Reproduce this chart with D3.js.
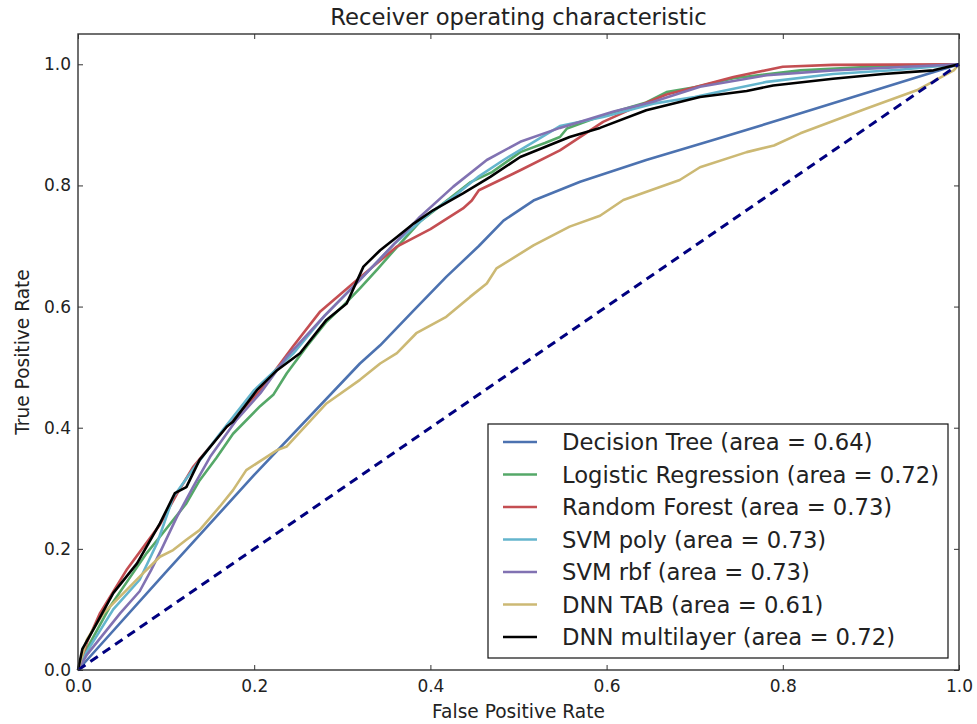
<!DOCTYPE html>
<meta charset="utf-8">
<style>
  body { margin: 0; background: white; }
  text { font-family: "DejaVu Sans", sans-serif; fill: #222; }
  .curve { fill: none; stroke-width: 2.6px; stroke-linejoin: round; }
  .tick line { stroke: #333; }
</style>
<body>
<div id="chart"></div>
<script src="https://d3js.org/d3.v7.min.js"></script>
<script>

// ROC curves, [fpr, tpr]
var decisionTree = [[0,0],[0.1,0.162],[0.2,0.322],[0.32,0.506],[0.343,0.536],[0.38,0.592],[0.418,0.649],[0.455,0.70],[0.483,0.742],[0.517,0.775],[0.57,0.806],[0.645,0.842],[0.721,0.875],[0.8,0.91],[0.9,0.955],[1,1]];
var logistic = [[0,0],[0.01,0.035],[0.036,0.104],[0.06,0.155],[0.078,0.193],[0.093,0.22],[0.123,0.275],[0.138,0.313],[0.157,0.35],[0.176,0.39],[0.207,0.436],[0.222,0.455],[0.237,0.49],[0.26,0.535],[0.282,0.575],[0.30,0.6],[0.32,0.63],[0.34,0.662],[0.36,0.695],[0.388,0.74],[0.41,0.765],[0.445,0.805],[0.47,0.822],[0.502,0.855],[0.53,0.87],[0.547,0.88],[0.555,0.894],[0.585,0.91],[0.615,0.924],[0.645,0.937],[0.668,0.954],[0.70,0.962],[0.744,0.977],[0.82,0.99],[0.9,0.996],[1,1]];
var randomForest = [[0,0],[0.01,0.045],[0.025,0.094],[0.055,0.165],[0.093,0.24],[0.112,0.29],[0.131,0.336],[0.169,0.402],[0.207,0.462],[0.244,0.534],[0.275,0.592],[0.32,0.648],[0.362,0.699],[0.40,0.728],[0.437,0.762],[0.447,0.775],[0.455,0.792],[0.502,0.825],[0.547,0.858],[0.596,0.905],[0.634,0.93],[0.668,0.95],[0.70,0.962],[0.744,0.979],[0.80,0.996],[0.857,0.999],[1,1]];
var svmPoly = [[0,0],[0.01,0.03],[0.04,0.1],[0.07,0.149],[0.09,0.21],[0.108,0.285],[0.13,0.33],[0.161,0.39],[0.2,0.462],[0.244,0.522],[0.28,0.585],[0.32,0.644],[0.36,0.705],[0.40,0.755],[0.426,0.781],[0.455,0.815],[0.483,0.842],[0.515,0.87],[0.547,0.898],[0.596,0.913],[0.653,0.935],[0.70,0.946],[0.729,0.955],[0.782,0.971],[0.857,0.984],[0.933,0.991],[1,1]];
var svmRbf = [[0,0],[0.01,0.025],[0.048,0.094],[0.07,0.13],[0.083,0.165],[0.095,0.2],[0.112,0.252],[0.131,0.303],[0.15,0.352],[0.18,0.413],[0.207,0.457],[0.237,0.517],[0.28,0.585],[0.32,0.644],[0.36,0.705],[0.388,0.748],[0.426,0.798],[0.464,0.842],[0.502,0.872],[0.547,0.895],[0.608,0.922],[0.653,0.938],[0.706,0.963],[0.782,0.982],[0.857,0.99],[1,1]];
var dnnTab = [[0,0],[0.01,0.05],[0.029,0.094],[0.055,0.132],[0.074,0.16],[0.093,0.187],[0.108,0.198],[0.123,0.215],[0.138,0.231],[0.161,0.27],[0.176,0.297],[0.191,0.33],[0.226,0.363],[0.237,0.369],[0.282,0.44],[0.32,0.479],[0.343,0.506],[0.362,0.523],[0.384,0.556],[0.418,0.583],[0.445,0.616],[0.464,0.638],[0.475,0.663],[0.517,0.701],[0.558,0.732],[0.5925,0.75],[0.619,0.776],[0.683,0.809],[0.706,0.83],[0.759,0.855],[0.79,0.866],[0.82,0.886],[0.895,0.927],[0.952,0.957],[0.994,0.99],[1,1]];
var dnnMulti = [[0,0],[0.005,0.035],[0.017,0.066],[0.04,0.127],[0.067,0.176],[0.093,0.242],[0.11,0.292],[0.123,0.302],[0.138,0.347],[0.169,0.402],[0.176,0.41],[0.203,0.462],[0.226,0.495],[0.252,0.523],[0.282,0.578],[0.305,0.605],[0.324,0.666],[0.343,0.693],[0.362,0.715],[0.381,0.737],[0.403,0.759],[0.437,0.787],[0.468,0.814],[0.502,0.847],[0.558,0.88],[0.5925,0.895],[0.645,0.924],[0.706,0.946],[0.759,0.956],[0.789,0.965],[0.857,0.976],[0.914,0.984],[0.971,0.99],[1,1]];

var names = ["Decision Tree", "Logistic Regression", "Random Forest", "SVM poly", "SVM rbf", "DNN TAB", "DNN multilayer"];
var areas = [0.64, 0.72, 0.73, 0.73, 0.73, 0.61, 0.72];
var curves = [decisionTree, logistic, randomForest, svmPoly, svmRbf, dnnTab, dnnMulti];
var colors = ["#4C72B0", "#55A868", "#C44E52", "#64B5CD", "#8172B2", "#CCB974", "#000000"];
var ticks = [0, 0.2, 0.4, 0.6, 0.8, 1.0];

var w = 977, h = 724;
var pLeft = 78, pRight = 959, pTop = 34, pBottom = 670;

var svg = d3.select("#chart").append("svg")
  .attr("width", w).attr("height", h);

var x = d3.scaleLinear().domain([0, 1]).range([pLeft, pRight]);
var y = d3.scaleLinear().domain([0, 1.05]).range([pBottom, pTop]);
var fmt = d3.format(".1f");

// axes, ticks pointing inward like matplotlib classic
svg.append("g").attr("transform", "translate(0," + pBottom + ")")
  .call(d3.axisBottom(x).tickValues(ticks).tickFormat(fmt).tickSizeInner(-5).tickSizeOuter(0).tickPadding(10))
  .call(function (g) { g.select(".domain").remove(); g.selectAll("text").style("font-size", "17px"); });
svg.append("g").attr("transform", "translate(0," + pTop + ")")
  .call(d3.axisTop(x).tickValues(ticks).tickFormat("").tickSizeInner(-5).tickSizeOuter(0))
  .call(function (g) { g.select(".domain").remove(); });
svg.append("g").attr("transform", "translate(" + pLeft + ",0)")
  .call(d3.axisLeft(y).tickValues(ticks).tickFormat(fmt).tickSizeInner(-5).tickSizeOuter(0).tickPadding(7))
  .call(function (g) { g.select(".domain").remove(); g.selectAll("text").style("font-size", "17px"); });
svg.append("g").attr("transform", "translate(" + pRight + ",0)")
  .call(d3.axisRight(y).tickValues(ticks).tickFormat("").tickSizeInner(-5).tickSizeOuter(0))
  .call(function (g) { g.select(".domain").remove(); });

var line = d3.line()
  .x(function (d) { return x(d[0]); })
  .y(function (d) { return y(d[1]); });

svg.append("g").selectAll("path")
  .data(curves)
  .enter().append("path")
  .attr("class", "curve")
  .attr("d", line)
  .attr("stroke", function (d, i) { return colors[i]; });

// chance line
svg.append("path")
  .attr("d", line([[0, 0], [1, 1]]))
  .attr("fill", "none")
  .attr("stroke", "navy")
  .attr("stroke-width", 3)
  .attr("stroke-dasharray", "9,6");

// frame
svg.append("rect")
  .attr("x", pLeft).attr("y", pTop)
  .attr("width", pRight - pLeft).attr("height", pBottom - pTop)
  .attr("fill", "none").attr("stroke", "#333").attr("stroke-width", 1.4);

svg.append("text")
  .attr("x", (pLeft + pRight) / 2).attr("y", 25)
  .attr("text-anchor", "middle")
  .style("font-size", "22.7px")
  .text("Receiver operating characteristic");

svg.append("text")
  .attr("x", (pLeft + pRight) / 2).attr("y", 718)
  .attr("text-anchor", "middle")
  .style("font-size", "18.6px")
  .text("False Positive Rate");

svg.append("text")
  .attr("transform", "translate(29," + (pTop + pBottom) / 2 + ") rotate(-90)")
  .attr("text-anchor", "middle")
  .style("font-size", "18.6px")
  .text("True Positive Rate");

// legend
var legend = svg.append("g");
legend.append("rect")
  .attr("x", 488).attr("y", 424).attr("width", 460).attr("height", 234)
  .attr("fill", "white").attr("stroke", "#111").attr("stroke-width", 1.2);

var rows = legend.selectAll("g.row")
  .data(names)
  .enter().append("g")
  .attr("class", "row")
  .attr("transform", function (d, i) { return "translate(0," + (442 + i * 32.5) + ")"; });

rows.append("line")
  .attr("x1", 503).attr("x2", 537)
  .attr("stroke", function (d, i) { return colors[i]; })
  .attr("stroke-width", 2.6);

rows.append("text")
  .attr("x", 562).attr("dy", "0.36em")
  .style("font-size", "22.7px")
  .text(function (d, i) { return d + " (area = " + areas[i].toFixed(2) + ")"; });

</script>
</body>
